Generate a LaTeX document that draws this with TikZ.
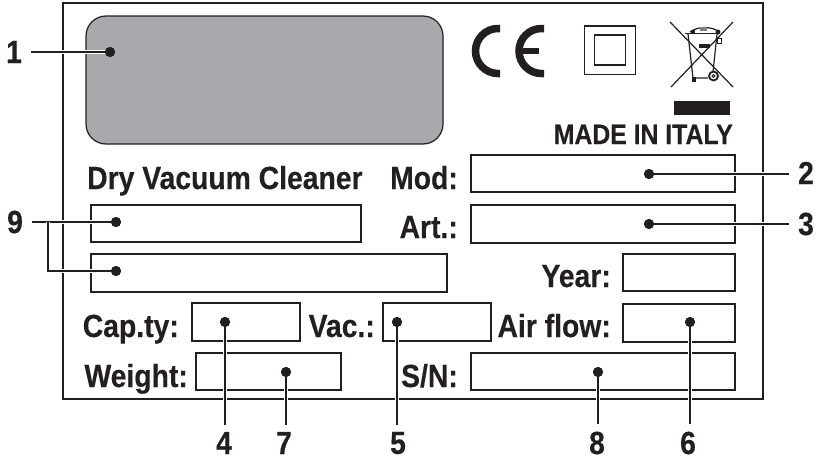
\documentclass[tikz,border=0pt]{standalone}
\usepackage{fontspec}
\setmainfont[FakeStretch=0.885,BoldFeatures={FakeBold=0.3}]{Liberation Sans}
\definecolor{ink}{HTML}{231F20}
\definecolor{panel}{HTML}{A7A9AC}
\tikzset{
  x=1pt,y=-1pt,
  frame/.style={draw=ink,line width=1.5pt,fill=none},
  fieldbox/.style={draw=ink,line width=1.6pt,fill=white},
  caption/.style={inner sep=0pt,text=ink,font=\fontsize{32}{32}\selectfont\bfseries},
  callout/.style={text=ink,font=\fontsize{32}{32}\selectfont\bfseries,inner sep=0pt},
  dotmark/.style={circle,fill=ink,inner sep=0pt,minimum size=10pt},
  leader/.style={draw=ink,line width=2.2pt,preaction={draw=white,line width=4.5pt}}
}
\begin{document}
\begin{tikzpicture}
\useasboundingbox (0,0) rectangle (821,458);
\fill[white] (0,0) rectangle (821,458);
\draw[frame] (63,3) rectangle (763,399);
\draw[draw=ink,line width=1.2pt,fill=panel,rounded corners=20pt] (86,16) rectangle (443,144);
% CE
\draw[ink,line width=7.5pt] (500,28.5) -- (498,28.5) arc[start angle=270,end angle=90,radius=22.5] -- (500,73.5);
\draw[ink,line width=7.5pt] (544,28.5) -- (541.5,28.5) arc[start angle=270,end angle=90,radius=22.5] -- (544,73.5);
\draw[ink,line width=6pt] (520,51) -- (539,51);
% double insulation
\draw[ink,line width=1.7pt] (584.5,26) rectangle (635.5,74.5);
\draw[ink,line width=1.7pt] (594.5,35) rectangle (625.5,65);
% bin
\draw[ink,line width=1.2pt] (670,22) -- (733,87) (733,22) -- (671,87);
\draw[ink,line width=1.2pt] (688,34) -- (693,78) -- (708,78) (717,34) -- (713,72);
\draw[ink,line width=1.8pt] (685,33.5) -- (720,33.5);
\draw[ink,line width=1.2pt] (690,32) .. controls (698,26) and (712,26) .. (719,32);
\fill[ink] (691,30) rectangle (695,34);
\fill[ink] (718,32) circle[radius=2.5];
\fill[gray] (700,27) rectangle (707,30.5);
\fill[ink] (699,44) rectangle (710,48);
\draw[ink,line width=1.8pt] (713.5,76) circle[radius=4.5];
\draw[ink,line width=1pt] (713.5,76) circle[radius=1.5];
\draw[ink,line width=.8pt] (717,38.5) rectangle (721,43.5);
\fill[ink] (692,77) rectangle (696,81.5);
\fill[ink] (674,101) rectangle (730,115);
% fields
\draw[fieldbox] (471,155) rectangle (735,192);
\draw[fieldbox] (471,205) rectangle (735,243);
\draw[fieldbox] (623,254) rectangle (735,291);
\draw[fieldbox] (623,304) rectangle (735,342);
\draw[fieldbox] (471,353) rectangle (735,390);
\draw[fieldbox] (91,205) rectangle (361,242);
\draw[fieldbox] (91,254) rectangle (447,292);
\draw[fieldbox] (192,303) rectangle (300,341);
\draw[fieldbox] (383,303) rectangle (491,341);
\draw[fieldbox] (196,353) rectangle (341,390);
% captions
\node[caption,anchor=base east] (made) at (733,144) {\fontsize{28}{28}\selectfont MADE IN ITALY};
\node[caption,anchor=base west] (dry) at (87,189) {Dry Vacuum Cleaner};
\node[caption,anchor=base east] (mod) at (458,189) {Mod:};
\node[caption,anchor=base east] (art) at (458,238) {Art.:};
\node[caption,anchor=base east] (year) at (611,287) {Year:};
\node[caption,anchor=base east] (cap) at (179,337) {Cap.ty:};
\node[caption,anchor=base east] (vac) at (375,337) {Vac.:};
\node[caption,anchor=base east] (air) at (611,337) {Air flow:};
\node[caption,anchor=base east] (wgt) at (188,387) {Weight:};
\node[caption,anchor=base east] (sn) at (458,387) {S/N:};
% dots
\node[dotmark] (d1) at (110,52) {};
\node[dotmark] (d2) at (649,174) {};
\node[dotmark] (d3) at (649,224) {};
\node[dotmark] (d4) at (225,322) {};
\node[dotmark] (d5) at (397,322) {};
\node[dotmark] (d6) at (690,322) {};
\node[dotmark] (d7) at (286,372) {};
\node[dotmark] (d8) at (598,372) {};
\node[dotmark] (d9a) at (116,222) {};
\node[dotmark] (d9b) at (116,271) {};
% callouts
\node[callout,inner xsep=9pt] (l1) at (14,52) {1};
\node[callout,inner xsep=9pt] (l9) at (15,222) {9};
\node[callout,inner xsep=9pt] (l2) at (806,173) {2};
\node[callout,inner xsep=9pt] (l3) at (806,224) {3};
\node[callout,inner ysep=7pt] (l4) at (224,443) {4};
\node[callout,inner ysep=7pt] (l7) at (284,443) {7};
\node[callout,inner ysep=7pt] (l5) at (398,443) {5};
\node[callout,inner ysep=7pt] (l8) at (597,443) {8};
\node[callout,inner ysep=7pt] (l6) at (688,443) {6};
\coordinate (j9) at (48,222);
% leaders
\draw[leader] (l1.east |- d1) -- (d1);
\draw[leader] (d2) -- (l2.west |- d2);
\draw[leader] (d3) -- (l3.west |- d3);
\draw[leader] (d4) -- (d4 |- l4.north);
\draw[leader] (d5) -- (d5 |- l5.north);
\draw[leader] (d6) -- (d6 |- l6.north);
\draw[leader] (d7) -- (d7 |- l7.north);
\draw[leader] (d8) -- (d8 |- l8.north);
\draw[leader] (l9.east |- d9a) -- (d9a);
\draw[leader] (j9) -- (j9 |- d9b) -- (d9b);
\foreach \n in {d1,d2,d3,d4,d5,d6,d7,d8,d9a,d9b} \fill[ink] (\n) circle[radius=5];
\end{tikzpicture}
\end{document}
